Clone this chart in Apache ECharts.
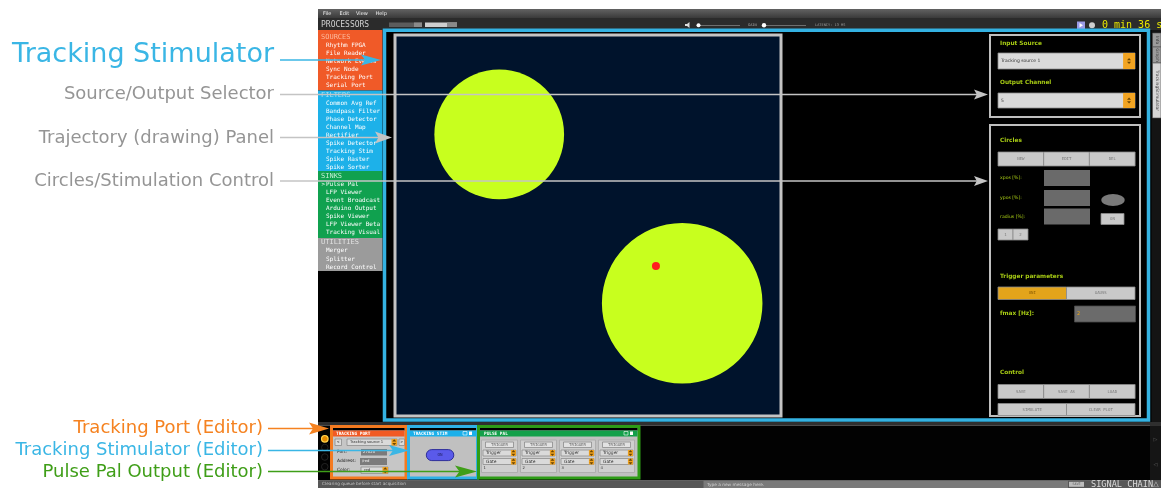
<!DOCTYPE html>
<html><head><meta charset="utf-8">
<script src="https://cdn.jsdelivr.net/npm/echarts@6/dist/echarts.min.js"></script>
<style>html,body{margin:0;padding:0;background:#fff}#c{width:1161px;height:488px}</style>
</head><body><div id="c"></div><script>
// ---------- data (percent of the trajectory panel) ----------
const circleX = [27.0, 74.4];
const circleY = [26.1, 70.4];
const circleR = [16.8, 20.8];
const positionX = [67.6];
const positionY = [60.6];
// ---------- texts ----------
const sourcesList = ['Rhythm FPGA','File Reader','Network Events','Sync Node','Tracking Port','Serial Port'];
const filtersList = ['Common Avg Ref','Bandpass Filter','Phase Detector','Channel Map','Rectifier','Spike Detector','Tracking Stim','Spike Raster','Spike Sorter'];
const sinksList = ['Pulse Pal','LFP Viewer','Event Broadcaster','Arduino Output','Spike Viewer','LFP Viewer Beta','Tracking Visualizer'];
const utilitiesList = ['Merger','Splitter','Record Control'];
const selectedProcessor = 'Pulse Pal';
const annotationLabels = ['Tracking Stimulator','Source/Output Selector','Trajectory (drawing) Panel','Circles/Stimulation Control'];
const editorLabels = ['Tracking Port (Editor)','Tracking Stimulator (Editor)','Pulse Pal Output (Editor)'];
const menuItems = ['File','Edit','View','Help'];
const circleButtons = ['NEW','EDIT','DEL'];
const controlButtons = ['SAVE','SAVE AS','LOAD'];
const controlButtons2 = ['SIMULATE','CLEAR PLOT'];
const pulsePalChannels = ['1','2','3','4'];
const sideTabs = ['Info','Graph','TrackingStimulator'];

// ---------- graphic helpers ----------
const W = [];
let zc = 1;
function rect(x,y,w,h,fill,stroke,lw,zl,r){ W.push({type:'rect',silent:true,zlevel:zl||0,z:zc++,shape:{x:x,y:y,width:w,height:h,r:r||0},style:{fill:fill||'none',stroke:stroke||'none',lineWidth:lw||0}}); }
function txt(x,y,s,color,size,o){ o=o||{}; const st={text:s,fill:color,font:(o.w||'normal')+' '+size+'px '+(o.f||'"DejaVu Sans"'),align:o.a||'left',verticalAlign:'middle',textAlign:o.a||'left',textVerticalAlign:'middle'}; if(o.clipW){st.width=o.clipW;st.overflow='truncate';st.ellipsis='';} W.push({type:'text',silent:true,zlevel:o.zl||0,z:zc++,x:x,y:y,rotation:o.rot||0,style:st}); }
function line(x1,y1,x2,y2,color,lw,zl){ W.push({type:'line',silent:true,zlevel:zl||0,z:zc++,shape:{x1:x1,y1:y1,x2:x2,y2:y2},style:{stroke:color,lineWidth:lw}}); }
function poly(pts,fill,zl){ W.push({type:'polygon',silent:true,zlevel:zl||0,z:zc++,shape:{points:pts},style:{fill:fill}}); }
function circ(cx,cy,r,fill,stroke,lw,zl,sx){ W.push({type:'circle',silent:true,zlevel:zl||0,z:zc++,x:cx,y:cy,scaleX:sx||1,shape:{cx:0,cy:0,r:r},style:{fill:fill||'none',stroke:stroke||'none',lineWidth:lw||0}}); }
const MONO = '"DejaVu Sans Mono"';
function btn(x,y,w,h,label,fill,tc){ rect(x,y,w,h,fill||'#c9c9c9','#8c8c8c',0.8); txt(x+w/2,y+h/2,label,tc||'#7a7a7a',4,{a:'center',f:MONO}); }
function combo(x,y,w,h,label,size){ rect(x,y,w,h,'#dadada','#8e8e8e',0.8); const bw=Math.min(h,14)*0.85; rect(x+w-bw,y,bw,h,'#f2a422'); const cx=x+w-bw/2, cy=y+h/2; poly([[cx-2,cy-0.8],[cx+2,cy-0.8],[cx,cy-3]],'#6a4500'); poly([[cx-2,cy+0.8],[cx+2,cy+0.8],[cx,cy+3]],'#6a4500'); txt(x+3,cy,label,'#333',size||4.5); }
function arrow(x1,y,tip,color,len,hw){ line(x1,y,tip-len*0.6,y,color,1.6,2); poly([[tip,y],[tip-len,y-hw],[tip-len*0.8,y],[tip-len,y+hw]],color,2); }

// ---------- window chrome ----------
W.push({type:'rect',silent:true,zlevel:0,z:zc++,shape:{x:318,y:9,width:843,height:9},style:{fill:{type:'linear',x:0,y:0,x2:0,y2:1,colorStops:[{offset:0,color:'#626262'},{offset:1,color:'#3a3a3a'}]}}});
[323,339.5,356,375.5].forEach((x,i)=>txt(x,13.5,menuItems[i],'#f0f0f0',5));
rect(318,18,843,12,'#2b2b2b');
txt(321,24.5,'PROCESSORS','#d0d0d0',8,{f:MONO});
rect(389,22.5,33,4.5,'#5c5c5c'); rect(414,22.5,8,4.5,'#8a8a8a');
rect(425,22.5,32,4.5,'#cfcfcf'); rect(447,22.5,10,4.5,'#8a8a8a');
poly([[685,24],[687,24],[689.5,22],[689.5,28],[687,26],[685,26]],'#dddddd');
line(697,25.5,740,25.5,'#6e6e6e',1); circ(698.5,25.3,2,'#ffffff');
txt(748,25.3,'GAIN','#a8a8a8',3.6,{f:MONO});
line(762,25.5,806,25.5,'#6e6e6e',1); circ(764,25.3,2.2,'#ffffff');
txt(815,25.3,'LATENCY: 13 MS','#9a9a9a',3.6,{f:MONO});
rect(1077,21.5,8,7.5,'#9a9ae6'); poly([[1079.5,23],[1079.5,27.5],[1083,25.2]],'#ffffff');
circ(1092,25.3,3,'#cfcfcf');
txt(1102,25,'0 min 36 s','#e8e800',10,{f:MONO});

// main black area
rect(318,30,843,393,'#000000');
// processor list
function section(y,h,color,title,tcolor,items,start,step){
  rect(318,y,64.5,h,color);
  txt(321,start-8.5,title,tcolor,7,{f:MONO});
  items.forEach((s,i)=>{ const yy=start+i*step; if(s===selectedProcessor) txt(321.5,yy,'>','#ffffff',6,{f:MONO}); txt(326,yy,s,'#ffffff',6,{f:MONO,clipW:56}); });
}
section(30,60.5,'#f05a28','SOURCES','#fbb89c',sourcesList,45.8,7.9);
section(90.5,80.5,'#1db1e9','FILTERS','#a2e1f8',filtersList,103.2,8);
section(171,67,'#10a14f','SINKS','#c4eed4',sinksList,184.7,7.95);
section(238,33,'#9b9b9b','UTILITIES','#e2e2e2',utilitiesList,250.7,8.3);

// cyan outline of the plugin
rect(384.5,30.3,764,389.7,'none','#34b2e2',3.5);

// right side tabs
rect(1151.5,30,9.5,393,'#141414');
const tabY=[33,47,63], tabH=[14,16,55];
sideTabs.forEach((s,i)=>{ rect(1152.5,tabY[i],8.5,tabH[i],i===2?'#d6d6d6':'#9c9c9c','#4a4a4a',0.6); txt(1156.8,tabY[i]+tabH[i]/2,s,'#3a3a3a',4.4,{a:'center',rot:-Math.PI/2}); });

// Input / output selector box
const LIME='#a8cc14';
rect(990,35,150,82,'#000','#bfbfbf',2);
txt(1000,43,'Input Source',LIME,5.8,{w:'bold'});
combo(998,53,137,16,'Tracking source 1',4.5);
txt(1000,82,'Output Channel',LIME,5.8,{w:'bold'});
combo(998,93,137,15,'5',4.5);

// circles / stimulation control box
rect(990,125,150,291,'#000','#bfbfbf',2);
txt(1000,140,'Circles',LIME,5.8,{w:'bold'});
circleButtons.forEach((s,i)=>btn(998+i*45.7,152,45.7,14,s));
txt(1000,178,'xpos [%]:',LIME,4.6); rect(1044,170,46,16,'#6a6a6a');
txt(1000,198,'ypos [%]:',LIME,4.6); rect(1044,190,46,16,'#6a6a6a');
txt(1000,216.5,'radius [%]:',LIME,4.6); rect(1044,208.5,46,16,'#6a6a6a');
circ(1113,200,6,'#7a7a7a',null,0,0,1.95);
btn(1101,213.5,23,11,'ON');
btn(998,229,15,11,'1'); btn(1013,229,15,11,'2');
txt(1000,276,'Trigger parameters',LIME,5.8,{w:'bold'});
btn(998,287,68.5,12.5,'UNI','#e3a41b','#8a5c00');
btn(1066.5,287,68.5,12.5,'GAUSS');
txt(1000,313.5,'fmax [Hz]:',LIME,5.8,{w:'bold'});
rect(1074.5,306,61,16,'#6b6b6b','#4a4a4a',0.8); txt(1077,314,'2','#e8a317',5);
txt(1000,372.5,'Control',LIME,5.8,{w:'bold'});
controlButtons.forEach((s,i)=>btn(998+i*45.7,384.5,45.7,14,s));
controlButtons2.forEach((s,i)=>btn(998+i*68.5,403.5,68.5,12,s));

// editor area
rect(318,422,843,3.5,'#2f2f2f');
rect(318,425.5,843,55,'#020202');
circ(324.8,438.8,3.3,'#e58a00','#ffd24a',1.2);
[447.5,457,466.7].forEach(y=>circ(324.8,y,3.3,'#050505','#2a2a2a',0.8));
// Tracking Port editor
rect(331.5,426.5,74.5,51.5,'#c6c6c6','#f47a20',3);
rect(333,428,71.5,2.6,'#000'); rect(333,430.5,71.5,6,'#f15a24');
txt(336,433.6,'TRACKING PORT','#ffffff',4.4,{f:MONO,w:'bold'});
btn(335,439,6.5,6.5,'<','#dcdcdc','#444');
combo(347,439,50,6.5,'Tracking source 1',3.8);
btn(399,439,5.5,6.5,'>','#dcdcdc','#444');
txt(337,452,'Port:','#222',4.4); rect(361,449,26,6.5,'#7b7b7b'); txt(363,452.3,'27020','#f4f4f4',3.8);
txt(337,461.3,'Address:','#222',4.4); rect(360,458,27,7,'#7b7b7b'); txt(362,461.5,'/red','#f4f4f4',3.8);
txt(337,470,'Color:','#222',4.4); combo(361,467,27,6.5,'red',3.8);
// Tracking Stim editor
rect(408.5,426.5,69,51.5,'#c0c0c0','#2fb1e6',3);
rect(410,428,66,2.6,'#000'); rect(410,430.5,66,6,'#1bb0ea');
txt(413,433.6,'TRACKING STIM','#ffffff',4.4,{f:MONO,w:'bold'});
rect(463,431.5,4,3.5,'none','#ffffff',0.6); rect(469,431.5,3,3.5,'#ffffff');
rect(426.3,449.6,27.5,11,'#5a5aea','#2e2e9a',1,0,5.5);
txt(440,455.2,'ON','#22226a',4.2,{a:'center',f:MONO});
// Pulse Pal editor
rect(478.5,426.5,160.5,51.5,'#c0c0c0','#2e9c17',3);
rect(480,428,157.5,2.6,'#000'); rect(480,430.5,157.5,6,'#13a04a');
txt(484,433.6,'PULSE PAL','#ffffff',4.4,{f:MONO,w:'bold'});
rect(624,431.5,4,3.5,'none','#ffffff',0.6); rect(630,431.5,3,3.5,'#ffffff');
pulsePalChannels.forEach((c,i)=>{
  const x0=481.5+i*39;
  rect(x0,440,36,32.5,'#cfcfcf','#a8a8a8',0.8);
  btn(x0+4,442,28,5.5,'TRIGGER','#e2e2e2','#666');
  combo(x0+1.5,450,33,6,'Trigger',4.4);
  combo(x0+1.5,458.5,33,6,'Gate',4.4);
  txt(x0+2,468.3,c,'#333',3.8);
});
// right strip of editor area
rect(1150,425.5,11,55,'#151515');
txt(1155.5,440,'\u25B7','#666',5,{a:'center'}); txt(1155.5,465,'\u25C1','#666',5,{a:'center'});
// status bar
rect(318,480.3,843,7.7,'#575757');
txt(322,484.3,'Clearing queue before start acquisition','#c0c0c0',4.3);
rect(703.5,480.8,364.5,7.2,'#7a7a7a');
txt(707,484.4,'Type a new message here.','#d2d2d2',4.3);
rect(1069,481.8,15,5,'#bcbcbc'); txt(1076.5,484.4,'SAVE','#666',3.3,{a:'center',f:MONO});
txt(1091,484.3,'SIGNAL CHAIN','#dadada',8.6,{f:MONO});
txt(1156,484.3,'\u25B3','#cfcfcf',7,{a:'center'});

// ---------- annotations ----------
const CY='#3ab6e5', GR='#959595', GL='#c4c4c4', OR='#f58220', GN='#3f9e18';
txt(274,55,annotationLabels[0],CY,27,{a:'right',zl:2});
txt(274,94.6,annotationLabels[1],GR,18,{a:'right',zl:2});
txt(274,137.9,annotationLabels[2],GR,18,{a:'right',zl:2});
txt(274,181.8,annotationLabels[3],GR,18,{a:'right',zl:2});
arrow(280,60,381,CY,20,5.5);
arrow(280,94.5,988,GL,14,5);
arrow(280,137.5,392,GL,17,6);
arrow(280,181,988,GL,14,5);
txt(263,428.6,editorLabels[0],OR,18,{a:'right',zl:2});
txt(263,450.6,editorLabels[1],CY,18,{a:'right',zl:2});
txt(263,471.9,editorLabels[2],GN,18,{a:'right',zl:2});
arrow(268,428.5,329,OR,20,6);
arrow(268,450.5,409,CY,20,5.5);
arrow(268,471.5,477,GN,22,6);

// ---------- chart ----------
const chart = echarts.init(document.getElementById('c'), null, {renderer:'canvas'});
chart.setOption({
  animation:false,
  backgroundColor:'#ffffff',
  grid:{left:395,top:35,width:386,height:381,show:true,backgroundColor:'#00132c',borderColor:'#c4c4c4',borderWidth:3,zlevel:1},
  xAxis:{type:'value',min:0,max:100,show:false},
  yAxis:{type:'value',min:0,max:100,inverse:true,show:false},
  graphic:{elements:W},
  series:[
    {type:'custom',coordinateSystem:'cartesian2d',zlevel:1,z:3,silent:true,
     data:circleX.map((x,i)=>[x,circleY[i],circleR[i]]),
     renderItem:function(params,api){
       const c=api.coord([api.value(0),api.value(1)]);
       const r=api.size([api.value(2),0])[0];
       return {type:'circle',shape:{cx:c[0],cy:c[1],r:r},style:{fill:'#c8ff1e'}};
     }},
    {type:'scatter',zlevel:1,z:4,silent:true,symbolSize:8,itemStyle:{color:'#ff1f1f',opacity:1},
     data:positionX.map((x,i)=>[x,positionY[i]])}
  ]
});
</script></body></html>
